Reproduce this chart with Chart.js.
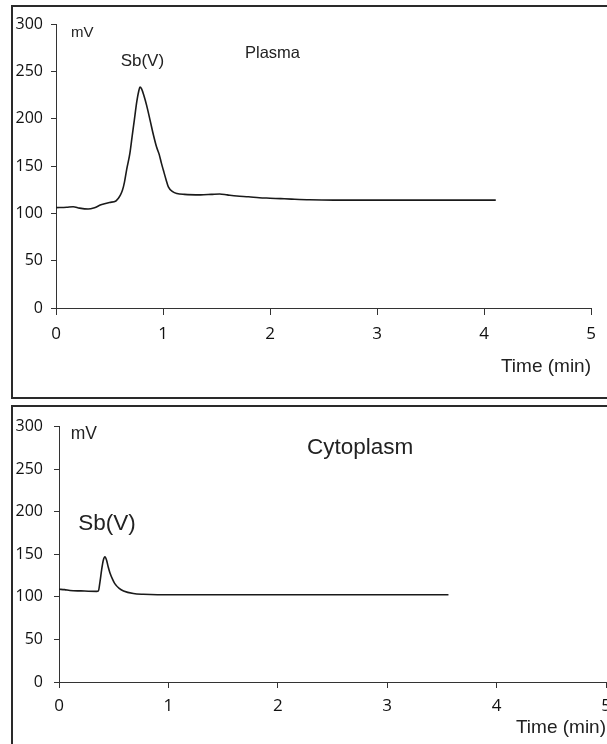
<!DOCTYPE html>
<html>
<head>
<meta charset="utf-8">
<script src="https://cdn.jsdelivr.net/npm/chart.js@4.4.1/dist/chart.umd.min.js"></script>
<style>
html, body { margin: 0; padding: 0; background: #fff; overflow: hidden; width: 607px; height: 744px; }
.panel { position: absolute; box-sizing: border-box; border: 2px solid #2a2a2a; }
canvas { position: absolute; }
</style>
</head>
<body>
<div class="panel" style="left:11px;top:5px;width:620px;height:394px;"></div>
<div class="panel" style="left:11px;top:405px;width:620px;height:360px;"></div>
<canvas id="plasma" width="594" height="393" style="left:12px;top:5px;width:594px;height:393px;"></canvas>
<canvas id="cyto" width="620" height="338" style="left:12px;top:406px;width:620px;height:338px;"></canvas>
<script>
// chromatogram values (time in min, signal in mV)
const xTicks = [0, 1, 2, 3, 4, 5];
const yTicks = [0, 50, 100, 150, 200, 250, 300];

const plasmaTime = [0, 0.1, 0.16, 0.22, 0.3, 0.36, 0.42, 0.5, 0.56, 0.58, 0.6, 0.62, 0.64, 0.66, 0.69, 0.71, 0.732,
  0.755, 0.775, 0.785, 0.8, 0.82, 0.847, 0.879, 0.91, 0.94, 0.965, 0.985, 1.003, 1.03, 1.05, 1.09,
  1.13, 1.2, 1.35, 1.45, 1.53, 1.6, 1.69, 1.8, 1.9, 2.0, 2.1, 2.2, 2.37, 2.6, 3.0, 3.5, 4.11];
const plasmaMv = [106, 106.5, 107, 105.5, 104.5, 106, 109, 111.5, 113, 115.5, 119, 124, 133, 146, 163, 180, 198.5,
  218, 230, 233.5, 231.5, 225, 214, 198.5, 183, 170, 162, 153, 145.7, 135, 128, 123,
  121, 120, 119.5, 120, 120.5, 119.5, 118.3, 117.5, 116.5, 116, 115.5, 115, 114.3, 114, 114, 114, 114];

const cytoTime = [0, 0.05, 0.1, 0.2, 0.345, 0.36, 0.375, 0.39, 0.405, 0.42, 0.435, 0.45, 0.466, 0.49, 0.51,
  0.55, 0.59, 0.68, 0.77, 0.9, 1.2, 2.0, 3.0, 3.56];
const cytoMv = [109, 108.5, 107.5, 107, 106.5, 107, 118, 132, 143, 147, 143, 135, 128, 120.5, 115.5,
  110, 107, 104, 103, 102.5, 102.5, 102.5, 102.5, 102.5];

const plasmaNotes = [
  { text: "mV", x: 0.14, y: 290.5, size: 15 },
  { text: "Sb(V)", x: 0.604, y: 261, size: 17 },
  { text: "Plasma", x: 1.766, y: 269, size: 16.5 }
];
const cytoNotes = [
  { text: "mV", x: 0.107, y: 290.8, size: 17.5 },
  { text: "Sb(V)", x: 0.176, y: 185.5, size: 22.5 },
  { text: "Cytoplasm", x: 2.267, y: 274.8, size: 22.5 }
];

const notesPlugin = {
  id: "notes",
  afterDatasetsDraw(chart, args, opts) {
    const { ctx, scales: { x, y } } = chart;
    ctx.save();
    ctx.fillStyle = "#222";
    ctx.textBaseline = "middle";
    ctx.textAlign = "left";
    opts.items.forEach((n) => {
      ctx.font = n.size + 'px "Liberation Sans", Arial, sans-serif';
      ctx.fillText(n.text, x.getPixelForValue(n.x), y.getPixelForValue(n.y));
    });
    ctx.restore();
  }
};

function makeChart(id, times, values, notes, look) {
  return new Chart(document.getElementById(id).getContext("2d"), {
    type: "line",
    data: {
      datasets: [{
        data: times.map((t, i) => ({ x: t, y: values[i] })),
        borderColor: "#1a1a1a",
        borderWidth: 1.6,
        pointRadius: 0,
        cubicInterpolationMode: "monotone",
        fill: false
      }]
    },
    options: {
      responsive: false,
      animation: false,
      events: [],
      layout: { padding: { left: 0, top: look.top, right: look.right, bottom: 0 } },
      plugins: {
        legend: { display: false },
        tooltip: { enabled: false },
        notes: { items: notes }
      },
      scales: {
        x: {
          type: "linear",
          min: xTicks[0],
          max: xTicks[xTicks.length - 1],
          afterBuildTicks: (s) => { s.ticks = xTicks.map((v) => ({ value: v })); },
          afterFit: (s) => { s.height = look.xHeight; },
          grid: { drawOnChartArea: false, tickLength: look.xTick, color: "#333", lineWidth: 1 },
          border: { color: "#333", width: 1 },
          ticks: { padding: look.xPad, maxRotation: 0, color: "#111", font: { family: '"Open Sans"', size: 17 } },
          title: {
            display: true,
            text: "Time (min)",
            align: "end",
            color: "#222",
            font: { family: '"Liberation Sans"', size: 19 },
            padding: { top: 0, bottom: look.titlePad }
          }
        },
        y: {
          type: "linear",
          min: yTicks[0],
          max: yTicks[yTicks.length - 1],
          afterBuildTicks: (s) => { s.ticks = yTicks.map((v) => ({ value: v })); },
          afterFit: (s) => { s.width = look.yWidth; },
          grid: { drawOnChartArea: false, tickLength: 5, color: "#333", lineWidth: 1 },
          border: { color: "#333", width: 1 },
          ticks: { padding: look.yPad, color: "#111", font: { family: '"Open Sans"', size: look.ySize } }
        }
      }
    },
    plugins: [notesPlugin]
  });
}

makeChart("plasma", plasmaTime, plasmaMv, plasmaNotes,
  { top: 19, right: 15, xHeight: 90, yWidth: 44, xTick: 7, xPad: 9, yPad: 8, ySize: 16, titlePad: 20 });
makeChart("cyto", cytoTime, cytoMv, cytoNotes,
  { top: 14, right: 26, xHeight: 62, yWidth: 47, xTick: 6, xPad: 8, yPad: 11, ySize: 16, titlePad: 5 });
</script>
</body>
</html>
